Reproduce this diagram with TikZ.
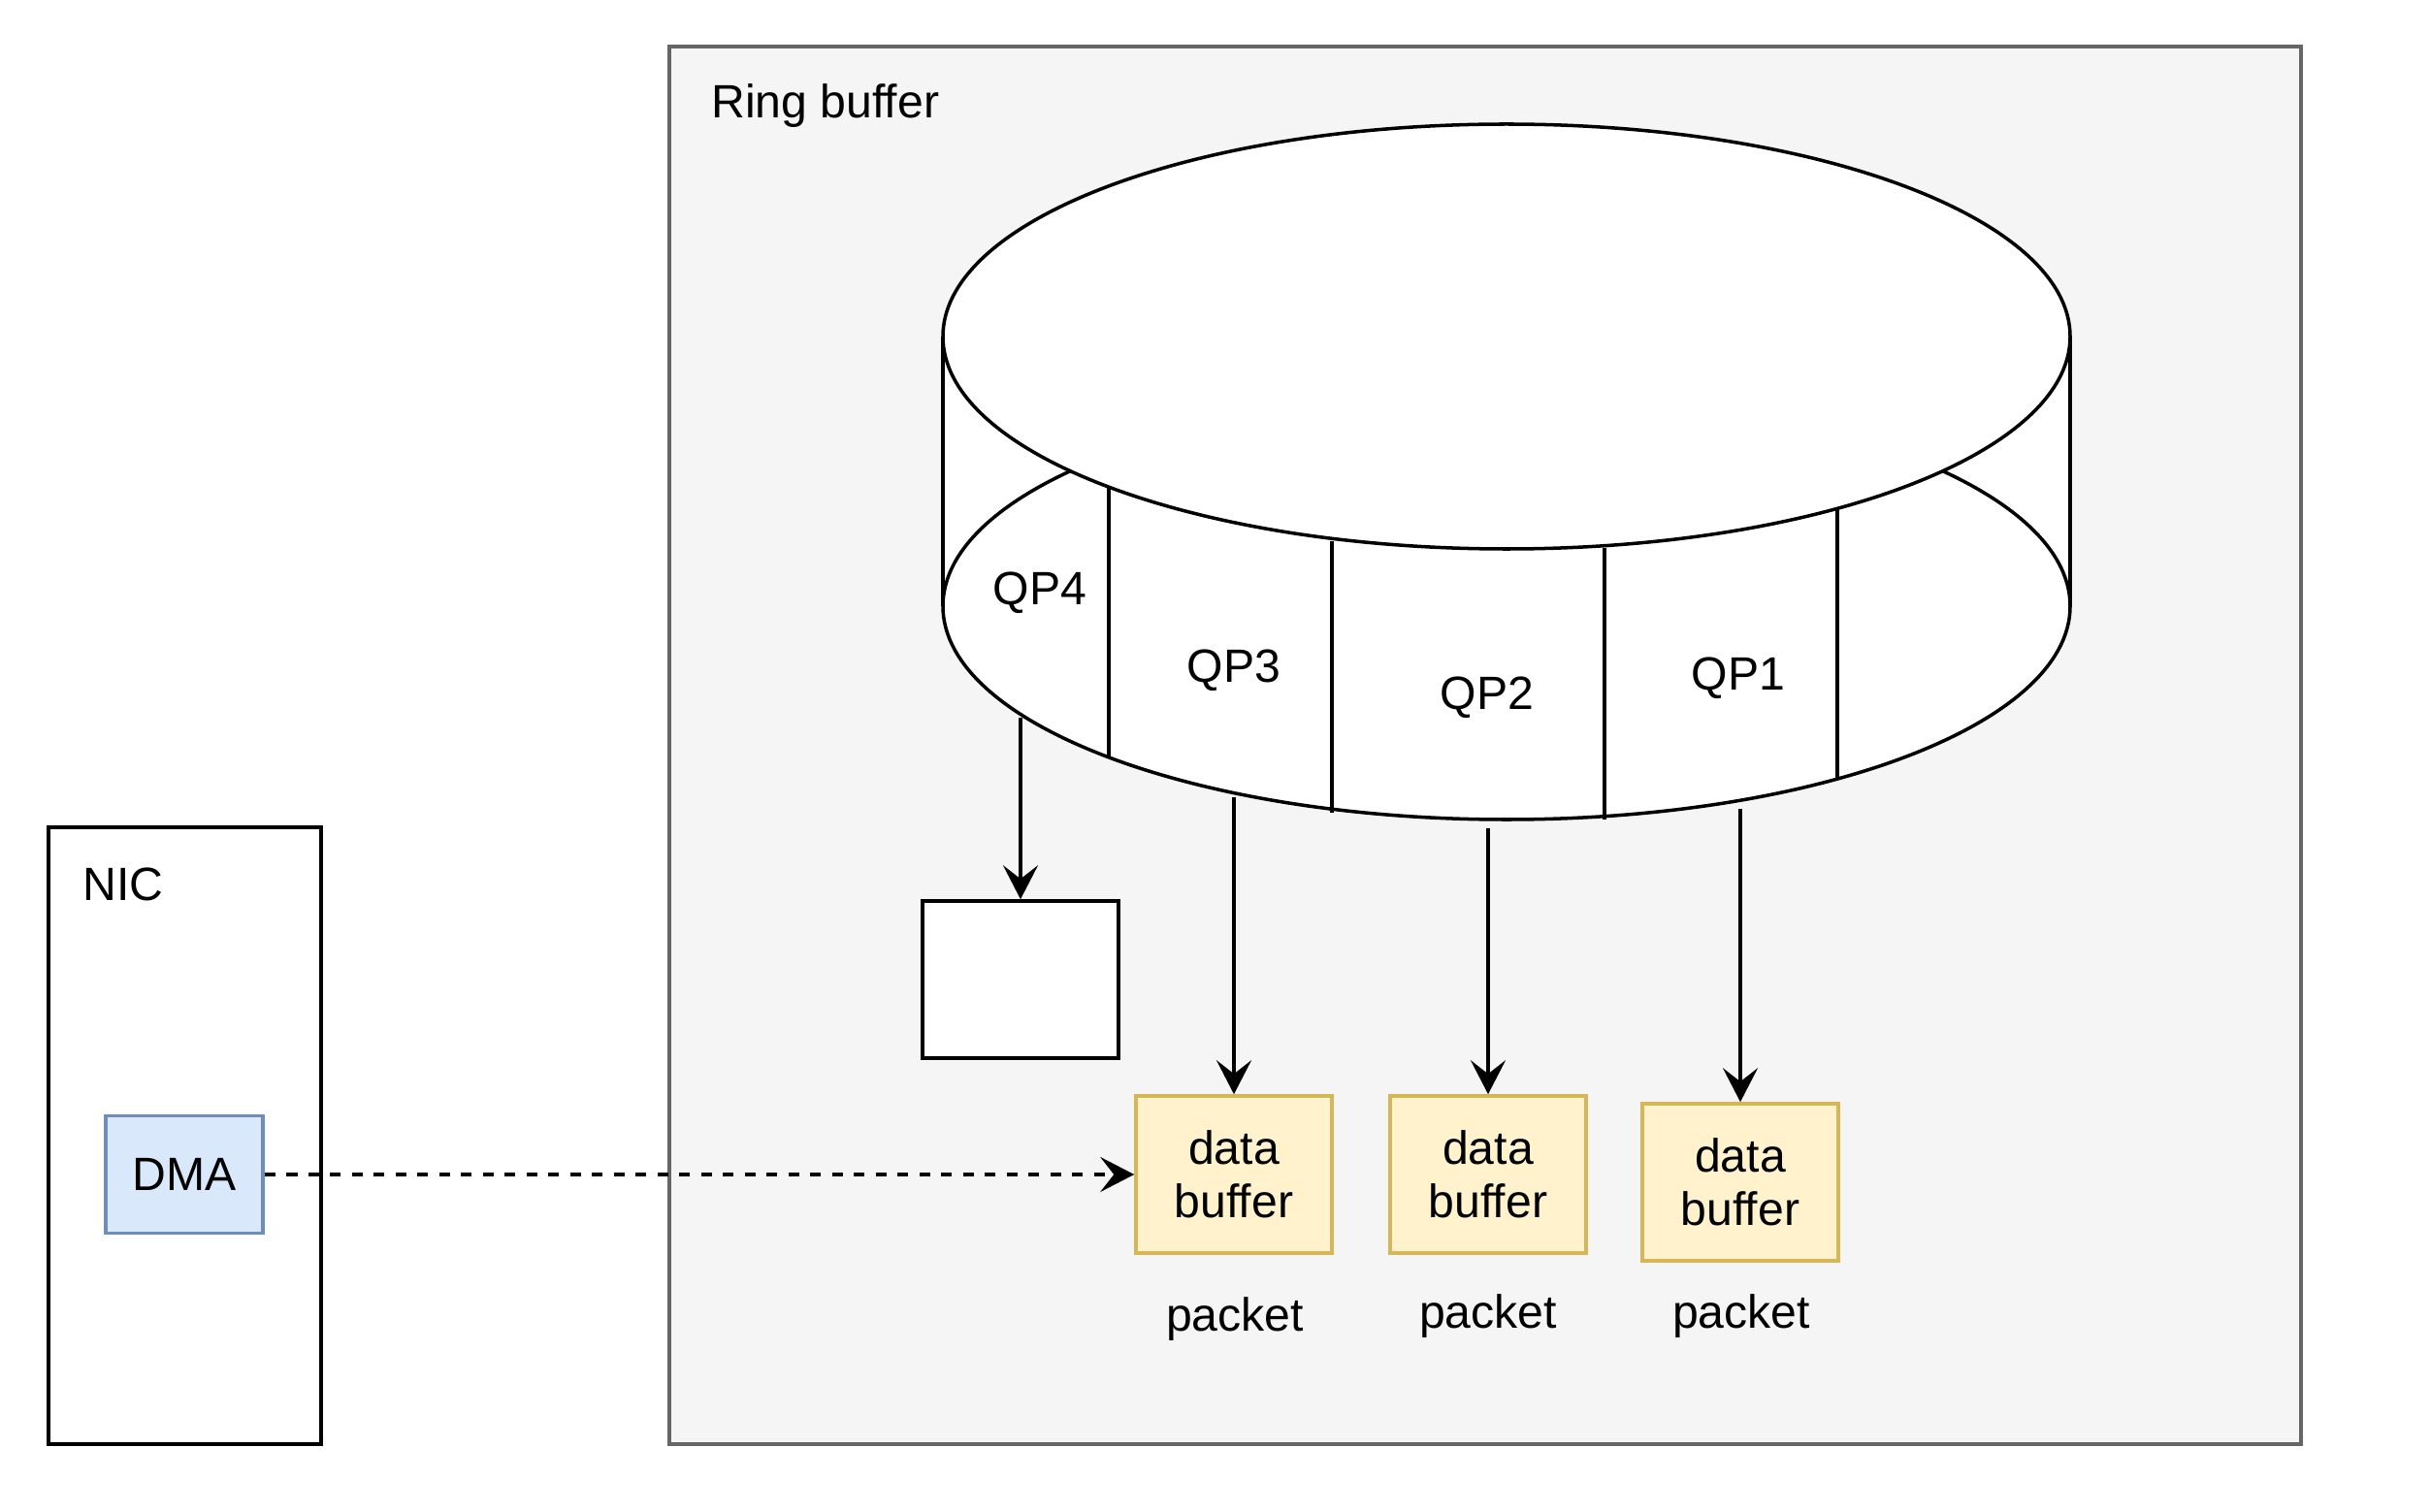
\documentclass[tikz,border=0pt]{standalone}
\usepackage{fontspec}
\setmainfont{Liberation Sans}
\usetikzlibrary{arrows.meta}
\definecolor{ringfill}{HTML}{F5F5F5}
\definecolor{ringline}{HTML}{666666}
\definecolor{dmafill}{HTML}{DAE8FC}
\definecolor{dmaline}{HTML}{6C8EBF}
\definecolor{buffill}{HTML}{FFF2CC}
\definecolor{bufline}{HTML}{D6B656}
\begin{document}
\begin{tikzpicture}[font=\fontsize{13.7}{15.6}\selectfont, line width=1pt,
  bufbox/.style={draw=bufline, fill=buffill, minimum width=2.02cm, minimum height=1.62cm, align=center, inner sep=0pt},
  arr/.style={-{Stealth[length=3.5mm, width=3.6mm, inset=1.4mm]}}]
  \useasboundingbox (0,0) rectangle (25.06,15.58);
  \draw[ringline, fill=ringfill, line width=0.9pt] (6.90,0.69) rectangle (23.72,15.10);
  \node[anchor=west] (ringlabel) at (7.20,14.49) {Ring buffer};
  \draw (0.50,0.69) rectangle (3.31,7.05);
  \node[anchor=west] (niclabel) at (0.72,6.46) {NIC};
  \node[draw=dmaline, fill=dmafill, minimum width=1.62cm, minimum height=1.21cm] (dma) at (1.90,3.47) {DMA};

  \fill[white] (9.72,9.33) rectangle (21.34,12.11);
  \draw[fill=white] (15.53,9.33) ellipse [x radius=5.81, y radius=2.2];
  \draw (9.72,9.33) -- (9.72,12.11) (21.34,9.33) -- (21.34,12.11);
  \draw[fill=white] (15.53,12.11) ellipse [x radius=5.81, y radius=2.19];
  \draw (11.43,10.56) -- (11.43,7.77);
  \draw (13.73,10.00) -- (13.73,7.20);
  \draw (16.54,9.93) -- (16.54,7.13);
  \draw (18.94,10.34) -- (18.94,7.54);
  \node (qp4) at (10.72,9.47) {QP4};
  \node (qp3) at (12.72,8.67) {QP3};
  \node (qp2) at (15.33,8.39) {QP2};
  \node (qp1) at (17.92,8.59) {QP1};

  \node[draw, fill=white, minimum width=2.02cm, minimum height=1.62cm] (spare) at (10.52,5.48) {};
  \node[bufbox] (buf3) at (12.72,3.47) {data\\buffer};
  \node[bufbox] (buf2) at (15.34,3.47) {data\\buffer};
  \node[bufbox] (buf1) at (17.94,3.39) {data\\buffer};
  \node (pkt3) at (12.73,1.98) {packet};
  \node (pkt2) at (15.34,2.01) {packet};
  \node (pkt1) at (17.95,2.01) {packet};

  \coordinate (out4) at (10.52,8.18);
  \coordinate (out3) at (12.72,7.36);
  \coordinate (out2) at (15.34,7.04);
  \coordinate (out1) at (17.94,7.24);
  \draw[arr] (out4) -- (spare);
  \draw[arr] (out3) -- (buf3);
  \draw[arr] (out2) -- (buf2);
  \draw[arr] (out1) -- (buf1);
  \draw[arr, dash pattern=on 3.2pt off 3.2pt] (dma) -- (buf3);
\end{tikzpicture}
\end{document}
